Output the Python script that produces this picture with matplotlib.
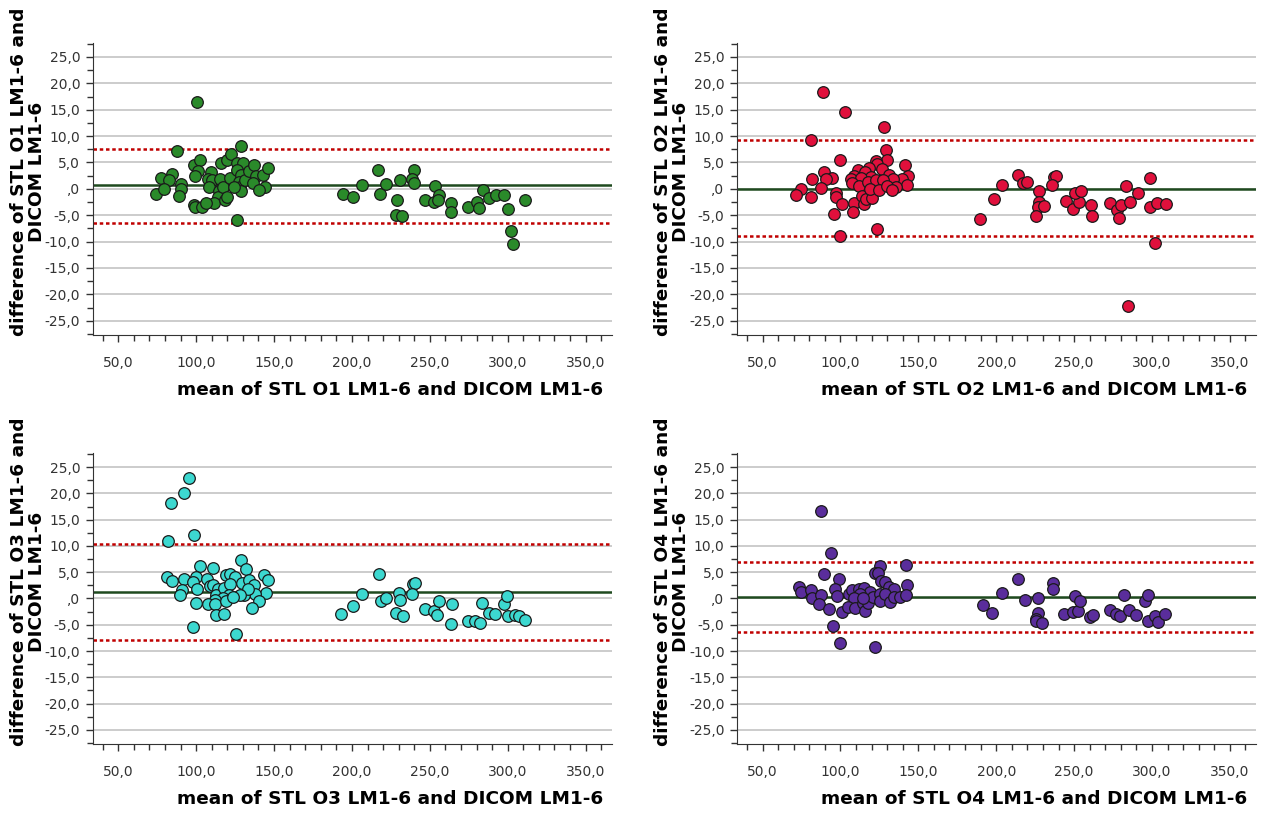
import numpy as np
import matplotlib
matplotlib.use('Agg')
import matplotlib.pyplot as plt
from matplotlib.ticker import FuncFormatter, MultipleLocator

# bland-altman data, one pair of lists per observer
o1_mean = [100.5, 87.6, 128.5, 77.6, 84.2, 82.7, 74.2, 79.1, 90.0, 90.2, 88.7, 98.5, 99.0, 103.5,
           98.7, 102.4, 101.3, 99.2, 109.6, 107.3, 110.3, 108.3, 114.6, 113.7, 111.2, 115.2, 115.8,
           119.5, 122.2, 117.3, 118.6, 120.1, 123.7, 121.8, 125.9, 130.1, 126.1, 128.7, 127.8, 127.9,
           128.7, 124.2, 131.4, 133.8, 137.0, 138.7, 136.3, 142.8, 146.2, 144.5, 140.6, 126.3, 106.2,
           194.5, 200.6, 206.2, 216.9, 218.2, 221.6, 230.8, 228.9, 228.0, 231.9, 239.6, 238.7, 239.7,
           253.4, 255.8, 246.6, 252.4, 255.1, 263.3, 263.7, 274.6, 280.0, 281.7, 284.4, 288.1, 292.8,
           297.9, 300.0, 302.2, 303.5, 310.9]
o1_diff = [16.4, 7.2, 8.2, 2.0, 2.9, 1.6, -1.0, -0.1, 0.9, 0.0, -1.3, -3.0, -3.4, -3.4,
           4.5, 5.5, 3.3, 2.4, 3.2, 1.8, 1.7, 0.3, -0.5, -1.6, -2.6, 1.9, 4.9,
           5.5, 6.6, 0.3, -2.2, -1.6, 1.8, 2.0, 4.9, 4.9, 3.6, 2.7, 1.3, 0.3,
           -0.5, 0.3, 1.6, 3.3, 4.5, 2.4, 1.2, 2.6, 3.9, 0.4, -0.3, -5.9, -2.7,
           -1.0, -1.5, 0.7, 3.6, -1.0, 0.9, 1.6, -2.2, -5.0, -5.1, 3.6, 1.9, 1.2,
           0.5, -1.1, -2.1, -2.4, -2.2, -2.7, -4.3, -3.4, -2.4, -3.6, -0.3, -1.8, -1.1,
           -1.1, -3.8, -8.0, -10.4, -2.2]

o2_mean = [88.9, 103.0, 128.0, 81.2, 129.3, 129.9, 100.0, 122.6, 123.3, 141.7, 126.9, 89.3, 118.6,
           111.0, 115.6, 131.4, 143.1, 119.7, 108.5, 106.9, 81.6, 94.9, 90.8, 139.3, 133.5, 113.3,
           107.2, 112.2, 117.9, 122.9, 127.1, 142.8, 135.5, 74.4, 71.6, 80.8, 87.4, 97.0, 97.0,
           101.1, 96.0, 108.8, 107.9, 113.9, 115.4, 116.7, 120.5, 119.0, 124.6, 129.7, 133.3, 123.3,
           100.0, 189.6, 198.3, 203.8, 214.3, 217.1, 219.9, 227.6, 227.8, 226.8, 230.6, 225.3, 237.3,
           238.3, 236.1, 244.5, 249.6, 253.0, 250.9, 254.3, 261.1, 261.5, 273.1, 277.4, 280.3, 278.8,
           283.1, 285.7, 291.0, 298.5, 298.5, 303.0, 308.9, 301.7, 284.9]
o2_diff = [18.4, 14.5, 11.7, 9.2, 7.4, 5.5, 5.4, 5.3, 4.7, 4.5, 3.7, 3.1, 4.0,
           3.5, 3.1, 2.6, 2.5, 2.2, 2.4, 1.9, 1.8, 2.1, 1.8, 1.8, 1.9, 2.1,
           1.1, 0.6, 1.3, 1.6, 1.6, 0.8, 0.3, 0.0, -1.2, -1.6, 0.1, -0.8, -1.5,
           -2.9, -4.8, -2.6, -4.4, -1.3, -2.8, -2.0, -1.8, 0.0, -0.3, 0.6, -0.3, -7.6,
           -9.0, -5.8, -2.0, 0.7, 2.7, 1.1, 1.3, -0.4, -2.5, -3.5, -3.2, -5.2, 2.3,
           2.5, 0.8, -2.3, -3.8, -2.4, -0.8, -0.4, -3.0, -5.1, -2.7, -4.1, -3.0, -5.6,
           0.6, -2.5, -0.8, 2.0, -3.4, -2.6, -2.8, -10.2, -22.2]

o3_mean = [95.3, 91.9, 83.6, 98.3, 82.1, 128.5, 131.9, 102.6, 110.7, 81.0, 84.4, 91.9, 100.0,
           97.9, 106.7, 90.6, 89.6, 100.6, 99.6, 97.9, 109.0, 110.9, 114.1, 112.8, 117.8, 119.0,
           121.4, 124.6, 121.8, 129.1, 133.8, 136.8, 143.6, 146.0, 144.7, 137.8, 130.8, 133.3, 128.0,
           121.0, 117.0, 112.0, 107.7, 111.8, 119.0, 123.7, 113.0, 117.9, 140.6, 135.9, 125.6,
           193.2, 200.6, 206.2, 217.3, 218.4, 221.6, 230.4, 231.0, 228.5, 232.7, 239.5, 240.8, 238.3,
           246.8, 252.4, 254.7, 256.2, 264.1, 263.7, 274.6, 279.3, 281.9, 283.3, 287.8, 292.1, 297.7,
           299.8, 300.3, 304.5, 307.1, 310.8]
o3_diff = [22.9, 20.1, 18.2, 12.1, 11.0, 7.4, 5.6, 6.1, 5.8, 4.1, 3.3, 3.7, 4.1,
           3.1, 3.7, 1.7, 0.6, 1.8, -0.8, -5.5, 2.3, 2.6, 1.8, 0.6, 2.0, 4.4,
           4.7, 4.0, 2.7, 2.9, 3.5, 2.5, 4.4, 3.5, 1.0, 0.9, 0.7, 1.8, 0.6,
           0.6, 0.1, -0.2, -1.1, -1.0, -0.4, 0.2, -3.1, -2.9, -0.5, -1.9, -6.8,
           -2.9, -1.4, 0.9, 4.6, -0.4, 0.1, 1.1, -0.3, -2.7, -3.3, 2.8, 3.0, 0.8,
           -2.0, -2.4, -3.1, -0.4, -1.0, -4.8, -4.2, -4.2, -4.6, -0.8, -2.7, -2.9, -1.0,
           0.4, -3.3, -3.1, -3.4, -4.0]

o4_mean = [87.8, 94.2, 89.7, 98.9, 125.2, 122.0, 124.4, 142.3, 142.5, 126.2, 128.6, 131.4, 134.2,
           73.1, 74.8, 81.2, 81.6, 87.8, 86.1, 96.4, 97.6, 92.9, 101.3, 95.5, 100.0, 122.0,
           105.6, 107.5, 111.8, 115.0, 119.0, 112.4, 109.0, 105.0, 109.5, 114.3, 115.8, 117.9, 121.2,
           125.2, 125.2, 128.6, 132.0, 134.6, 138.3, 142.3, 114.3,
           191.7, 197.4, 203.8, 214.3, 218.6, 227.1, 227.1, 225.4, 225.8, 229.4, 236.5, 236.7, 243.5,
           249.3, 252.6, 250.6, 253.8, 260.4, 262.1, 272.9, 277.1, 279.7, 282.3, 285.3, 289.6, 295.3,
           297.3, 297.3, 302.0, 303.9, 308.4]
o4_diff = [16.7, 8.6, 4.7, 3.8, 6.1, 4.9, 4.9, 6.4, 2.5, 3.4, 3.1, 2.1, 1.8,
           2.1, 1.3, 1.6, 0.1, 0.6, -1.0, 1.9, 0.5, -2.0, -2.5, -5.3, -8.5, -9.3,
           0.9, 1.7, 1.9, 2.0, 1.3, 0.8, 0.1, -1.6, -1.8, -0.8, -2.4, -0.8, 0.2,
           0.9, -0.4, 0.9, -0.6, 0.2, 0.2, 0.7, 0.1,
           -1.2, -2.7, 1.1, 3.7, -0.3, 0.0, -2.8, -3.9, -4.3, -4.6, 2.9, 1.9, -3.0,
           -2.6, -2.3, 0.4, -0.4, -3.5, -3.2, -2.1, -3.0, -3.4, 0.6, -2.1, -3.2, -0.4,
           0.6, -4.2, -3.4, -4.4, -2.9]

# mean difference and limits of agreement
bias = [0.7, 0.0, 1.2, 0.3]
upper_loa = [7.6, 9.3, 10.4, 6.9]
lower_loa = [-6.4, -9.0, -7.9, -6.3]

observers = ['O1', 'O2', 'O3', 'O4']
colors = ['#2a8a2a', '#e0103c', '#3cd8d0', '#5a2d9c']
means = [o1_mean, o2_mean, o3_mean, o4_mean]
diffs = [o1_diff, o2_diff, o3_diff, o4_diff]


def comma_fmt(v, pos):
    s = '%.1f' % v
    if s in ('0.0', '-0.0'):
        return ',0'
    return s.replace('.', ',')


fig = plt.figure(figsize=(12.62, 8.14), dpi=100)
positions = [[0.0735, 0.5885, 0.4115, 0.359],
             [0.584, 0.5885, 0.4115, 0.359],
             [0.0735, 0.086, 0.4115, 0.3575],
             [0.584, 0.086, 0.4115, 0.3575]]

for i in range(4):
    ax = fig.add_axes(positions[i])
    for v in np.arange(-25, 26, 5):
        ax.axhline(v, color='#c4c4c4', lw=1.2, zorder=1)
    ax.axhline(bias[i], color='#1f4a1f', lw=1.8, zorder=2)
    ax.axhline(upper_loa[i], color='#c00000', lw=1.8, ls=(0, (1.4, 1.1)), zorder=2)
    ax.axhline(lower_loa[i], color='#c00000', lw=1.8, ls=(0, (1.4, 1.1)), zorder=2)
    ax.scatter(means[i], diffs[i], s=70, color=colors[i], edgecolor='#1a1a1a', linewidth=0.9, zorder=3)

    ax.set_xlim(33.6, 367)
    ax.set_ylim(-27.7, 27.7)
    ax.xaxis.set_major_locator(MultipleLocator(50))
    ax.xaxis.set_minor_locator(MultipleLocator(10))
    ax.yaxis.set_major_locator(MultipleLocator(5))
    ax.yaxis.set_minor_locator(MultipleLocator(2.5))
    ax.xaxis.set_major_formatter(FuncFormatter(comma_fmt))
    ax.yaxis.set_major_formatter(FuncFormatter(comma_fmt))
    ax.tick_params(which='major', length=5, width=1, colors='#333333', labelsize=10, pad=4)
    ax.tick_params(axis='x', which='major', pad=10)
    ax.tick_params(which='minor', length=4, width=1, colors='#333333')
    ax.spines['top'].set_visible(False)
    ax.spines['right'].set_visible(False)
    ax.spines['left'].set_color('#333333')
    ax.spines['bottom'].set_color('#333333')

    ax.set_xlabel('mean of STL %s LM1-6 and DICOM LM1-6' % observers[i], fontsize=13.3, fontweight='bold')
    ax.xaxis.set_label_coords(0.572, -0.157)
    ax.set_ylabel('difference of STL %s LM1-6 and\nDICOM LM1-6' % observers[i], fontsize=13.3,
                  fontweight='bold', linespacing=1.0)
    ax.yaxis.set_label_coords(-0.09, 0.558)

fig.savefig('out.png', dpi=100)
